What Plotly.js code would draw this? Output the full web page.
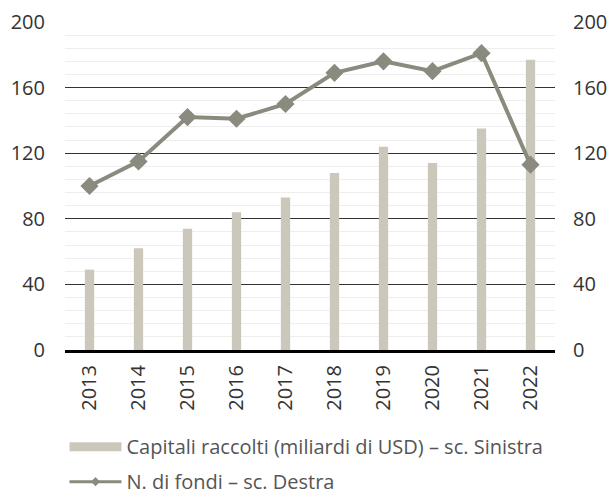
<!DOCTYPE html>
<html><head><meta charset="utf-8">
<script src="https://cdn.plot.ly/plotly-3.0.1.min.js"></script>
<style>html,body{margin:0;padding:0;background:#fff}#chart{width:612px;height:492px}</style>
</head><body><div id="chart"></div>
<script>
const years = ['2013','2014','2015','2016','2017','2018','2019','2020','2021','2022'];
const capitali = [49, 62, 74, 84, 93, 108, 124, 114, 135, 177];
const fondi = [100, 115, 142, 141, 150, 169, 176, 170, 181, 113];
const yTicks = [0, 40, 80, 120, 160, 200];
const nameBar = 'Capitali raccolti (miliardi di USD) – sc. Sinistra';
const nameLine = 'N. di fondi – sc. Destra';
const barColor = '#cbc8bb';
const lineColor = '#8a8a7e';

const traces = [
  {
    type: 'bar', x: years, y: capitali, name: nameBar, showlegend: false,
    marker: {color: barColor}, width: 0.19, yaxis: 'y', hoverinfo: 'skip'
  },
  {
    type: 'scatter', mode: 'lines+markers', x: years, y: fondi, name: nameLine,
    showlegend: false,
    line: {color: lineColor, width: 4},
    marker: {symbol: 'diamond', size: 14, color: lineColor},
    yaxis: 'y2', hoverinfo: 'skip'
  },
  // legend entries
  {
    type: 'scatter', mode: 'lines', x: [years[0]], y: [null], name: nameBar,
    line: {color: barColor, width: 9}, legendgroup: 'a', yaxis: 'y'
  },
  {
    type: 'scatter', mode: 'lines+markers', x: [years[0]], y: [null], name: nameLine,
    line: {color: lineColor, width: 3},
    marker: {symbol: 'diamond', size: 7, color: lineColor},
    legendgroup: 'b', yaxis: 'y2'
  }
];

const FAM = 'Open Sans, Noto Sans, sans-serif';
const tickFont = {family: FAM, size: 20, color: '#333'};
const layout = {
  width: 612, height: 492,
  margin: {l: 65, r: 57, t: 22, b: 0, autoexpand: false},
  paper_bgcolor: '#fff', plot_bgcolor: '#fff',
  font: {family: FAM, size: 20, color: '#555'},
  xaxis: {
    type: 'category', range: [-0.5, years.length - 0.5], tickangle: -90,
    tickfont: tickFont, automargin: false,
    showline: true, linecolor: '#000', linewidth: 3, ticks: '', showgrid: false,
    zeroline: false, ticklabelstandoff: 4, anchor: 'y'
  },
  yaxis: {
    domain: [0.3021, 1], automargin: false,
    range: [0, 200], tickvals: yTicks, ticktext: yTicks.map(String),
    tickfont: tickFont, showgrid: true, gridcolor: '#333', gridwidth: 1,
    zeroline: false, ticks: '', ticklabelstandoff: 19,
    minor: {dtick: 8, tick0: 0, showgrid: true, gridcolor: '#eeeeee', gridwidth: 1}
  },
  yaxis2: {
    range: [0, 200], tickvals: yTicks, ticktext: yTicks.map(String), automargin: false,
    tickfont: tickFont, overlaying: 'y', side: 'right', showgrid: false,
    zeroline: false, ticks: '', ticklabelstandoff: 17
  },
  showlegend: true,
  legend: {
    orientation: 'v', x: -0.001, xanchor: 'left', y: 0.138, yanchor: 'top',
    traceorder: 'grouped', tracegroupgap: 6, itemwidth: 52,
    font: {family: FAM, size: 20, color: '#555'},
    bgcolor: 'rgba(0,0,0,0)'
  }
};
Plotly.newPlot('chart', traces, layout, {staticPlot: true, displayModeBar: false});
</script></body></html>
